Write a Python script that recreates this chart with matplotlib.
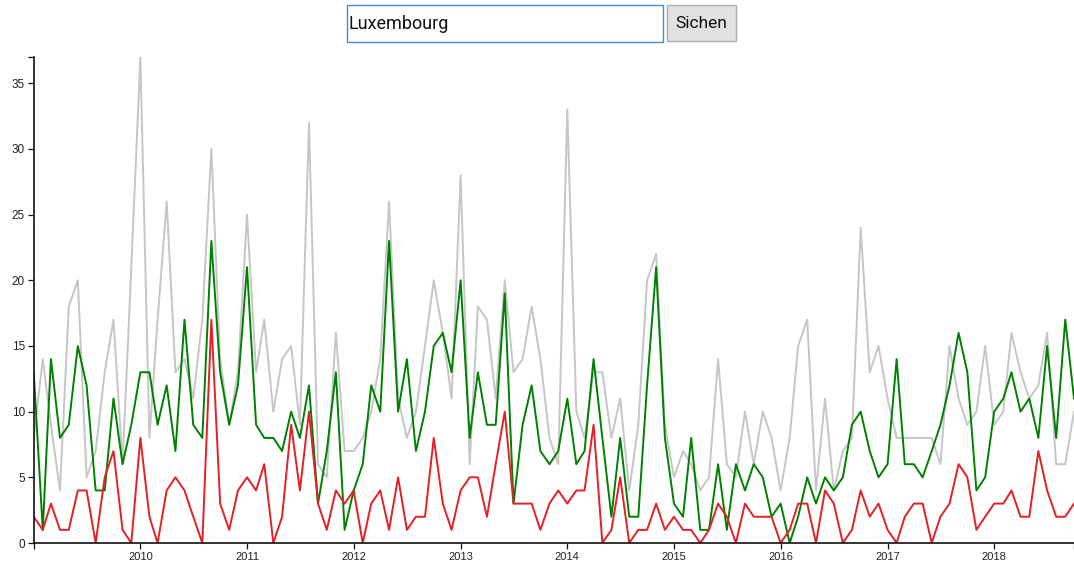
import pandas as pd
import matplotlib.pyplot as plt
import matplotlib.dates as mdates
from matplotlib.patches import Rectangle

# monthly values, Jan 2009 .. Oct 2018
months = pd.date_range('2009-01-01', periods=118, freq='MS')

series_grey = [8, 14, 9, 4, 18, 20, 5, 7, 13, 17, 6, 21,
               37, 8, 17, 26, 13, 14, 11, 17, 30, 14, 9, 13,
               25, 13, 17, 10, 14, 15, 9, 32, 6, 5, 16, 7,
               7, 8, 10, 14, 26, 11, 8, 10, 15, 20, 16, 11,
               28, 6, 18, 17, 11, 20, 13, 14, 18, 14, 8, 6,
               33, 10, 8, 13, 13, 8, 11, 4, 9, 20, 22, 9,
               5, 7, 6, 4, 5, 14, 6, 5, 10, 6, 10, 8,
               4, 8, 15, 17, 4, 11, 4, 7, 8, 24, 13, 15,
               11, 8, 8, 8, 8, 8, 6, 15, 11, 9, 10, 15,
               9, 10, 16, 13, 11, 12, 16, 6, 6, 10]

series_green = [13, 1, 14, 8, 9, 15, 12, 4, 4, 11, 6, 9,
                13, 13, 9, 12, 7, 17, 9, 8, 23, 13, 9, 12,
                21, 9, 8, 8, 7, 10, 8, 12, 3, 7, 13, 1,
                4, 6, 12, 10, 23, 10, 14, 7, 10, 15, 16, 13,
                20, 8, 13, 9, 9, 19, 3, 9, 12, 7, 6, 7,
                11, 6, 7, 14, 8, 2, 8, 2, 2, 12, 21, 8,
                3, 2, 8, 1, 1, 6, 1, 6, 4, 6, 5, 2,
                3, 0, 2, 5, 3, 5, 4, 5, 9, 10, 7, 5,
                6, 14, 6, 6, 5, 7, 9, 12, 16, 13, 4, 5,
                10, 11, 13, 10, 11, 8, 15, 8, 17, 11]

series_red = [2, 1, 3, 1, 1, 4, 4, 0, 5, 7, 1, 0,
              8, 2, 0, 4, 5, 4, 2, 0, 17, 3, 1, 4,
              5, 4, 6, 0, 2, 9, 4, 10, 3, 1, 4, 3,
              4, 0, 3, 4, 1, 5, 1, 2, 2, 8, 3, 1,
              4, 5, 5, 2, 6, 10, 3, 3, 3, 1, 3, 4,
              3, 4, 4, 9, 0, 1, 5, 0, 1, 1, 3, 1,
              2, 1, 1, 0, 1, 3, 2, 0, 3, 2, 2, 2,
              0, 1, 3, 3, 0, 4, 3, 0, 1, 4, 2, 3,
              1, 0, 2, 3, 3, 0, 2, 3, 6, 5, 1, 2,
              3, 3, 4, 2, 2, 7, 4, 2, 2, 3]

year_ticks = pd.to_datetime([f'{y}-01-01' for y in range(2010, 2019)])
y_ticks = [0, 5, 10, 15, 20, 25, 30, 35]

W, H = 1074, 569
fig = plt.figure(figsize=(W / 100, H / 100), dpi=100)
ax = fig.add_axes([33.7 / W, 1 - 543 / H, 1 - 33.7 / W, (543 - 57) / H])

ax.plot(months, series_grey, color='#c6c6c6', lw=1.4)
ax.plot(months, series_green, color='#008000', lw=1.4)
ax.plot(months, series_red, color='#e41f26', lw=1.4)

ax.set_xlim(months[0], months[-1])
ax.set_ylim(0, 37)
ax.set_xticks(year_ticks)
ax.xaxis.set_major_formatter(mdates.DateFormatter('%Y'))
ax.set_yticks(y_ticks)
# d3 style outer ticks at the ends of the domain
ax.set_xticks([months[0], months[-1]], minor=True)
ax.set_yticks([0, 37], minor=True)

for s in ['top', 'right']:
    ax.spines[s].set_visible(False)
for s in ['left', 'bottom']:
    ax.spines[s].set_linewidth(1.2)
    ax.spines[s].set_color('#111111')

ax.tick_params(axis='both', which='both', length=4.3, width=0.9, color='#111111')
ax.tick_params(axis='y', labelsize=8.5, labelcolor='#222222', pad=2)
ax.tick_params(axis='x', labelsize=8, labelcolor='#222222', pad=2)
for lab in ax.get_xticklabels() + ax.get_yticklabels():
    lab.set_family('Liberation Sans')

# search box and button above the chart
def px(x, y):
    return x / W, 1 - y / H

x0, y0 = px(346.5, 41.5)
fig.add_artist(Rectangle((x0, y0), (663 - 346.5) / W, 36.5 / H, transform=fig.transFigure,
                         facecolor='white', edgecolor='#3f8ed0', lw=1.0))
tx, ty = px(349, 24)
fig.text(tx, ty, 'Luxembourg', family='Roboto', fontsize=13, color='#111111', va='center', ha='left')

x0, y0 = px(667, 40.5)
fig.add_artist(Rectangle((x0, y0), 69 / W, 35.5 / H, transform=fig.transFigure,
                         facecolor='#e1e1e1', edgecolor='#adadad', lw=1.0))
tx, ty = px(701.5, 23)
fig.text(tx, ty, 'Sichen', family='Roboto', fontsize=12.5, color='#111111', va='center', ha='center')

fig.savefig('out.png', dpi=100)
